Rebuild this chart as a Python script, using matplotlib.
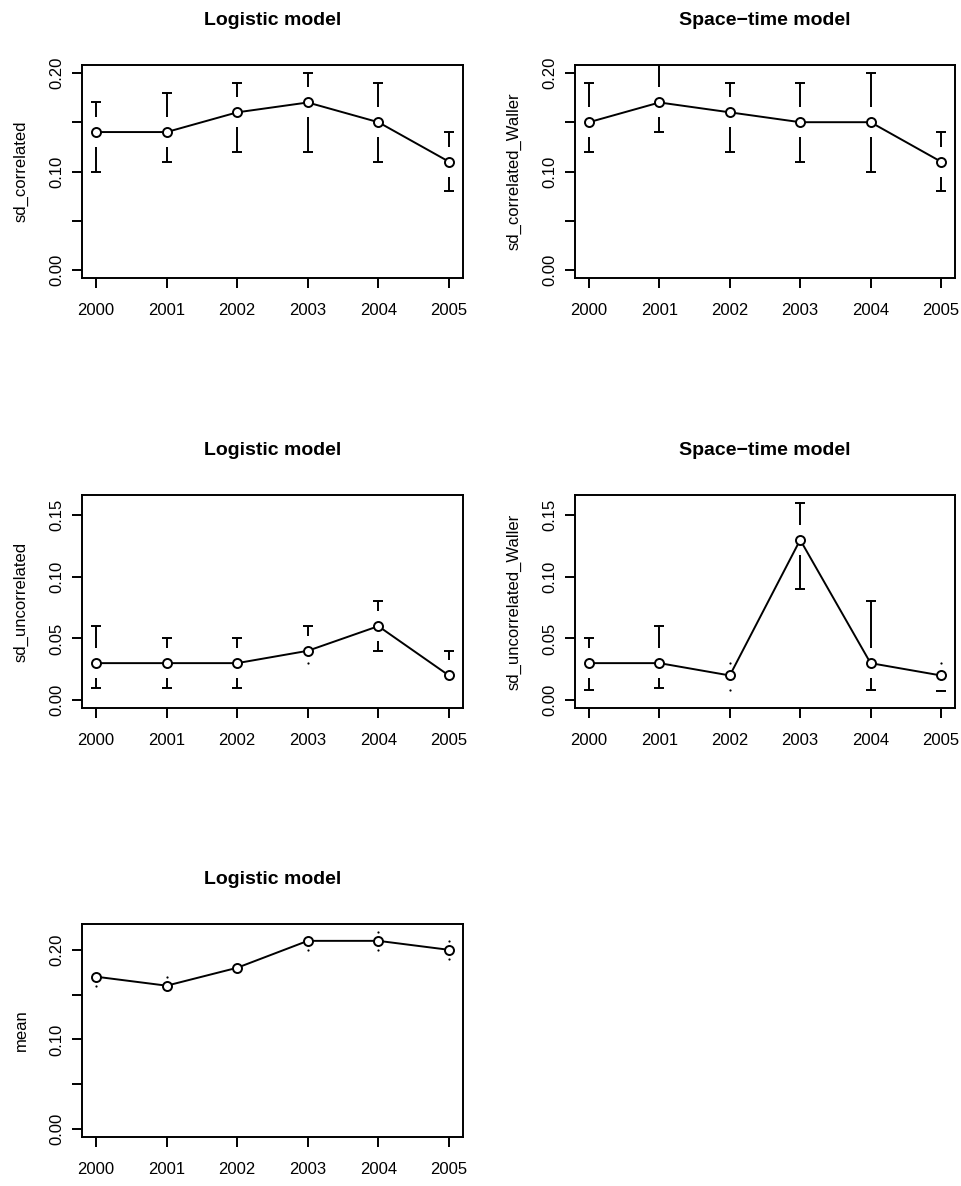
import matplotlib
matplotlib.use("Agg")
import matplotlib.pyplot as plt
import numpy as np

plt.rcParams['font.family'] = ['Liberation Sans', 'DejaVu Sans']

years = [2000, 2001, 2002, 2003, 2004, 2005]

# logistic model, sd_correlated
logit_corr = [0.14, 0.14, 0.16, 0.17, 0.15, 0.11]
logit_corr_lo = [0.10, 0.11, 0.12, 0.12, 0.11, 0.08]
logit_corr_hi = [0.17, 0.18, 0.19, 0.20, 0.19, 0.14]

# space-time model, sd_correlated_Waller
st_corr = [0.15, 0.17, 0.16, 0.15, 0.15, 0.11]
st_corr_lo = [0.12, 0.14, 0.12, 0.11, 0.10, 0.08]
st_corr_hi = [0.19, 0.21, 0.19, 0.19, 0.20, 0.14]

# logistic model, sd_uncorrelated
logit_unc = [0.03, 0.03, 0.03, 0.04, 0.06, 0.02]
logit_unc_lo = [0.01, 0.01, 0.01, 0.03, 0.04, 0.02]
logit_unc_hi = [0.06, 0.05, 0.05, 0.06, 0.08, 0.04]

# space-time model, sd_uncorrelated_Waller
st_unc = [0.03, 0.03, 0.02, 0.13, 0.03, 0.02]
st_unc_lo = [0.008, 0.01, 0.008, 0.09, 0.008, 0.007]
st_unc_hi = [0.05, 0.06, 0.03, 0.16, 0.08, 0.03]

# logistic model, mean
logit_mean = [0.17, 0.16, 0.18, 0.21, 0.21, 0.20]
logit_mean_lo = [0.16, 0.16, 0.18, 0.20, 0.20, 0.19]
logit_mean_hi = [0.17, 0.17, 0.18, 0.21, 0.22, 0.21]

W, H = 962, 1186
fig = plt.figure(figsize=(W / 100, H / 100), dpi=100)

LW = 1.4
GAP_PX = 15
AX_H = 213


def make_ax(left, top, width):
    return fig.add_axes([left / W, 1 - (top + AX_H) / H, width / W, AX_H / H])


def panel(ax, y, lo, hi, ymax, ticks, labels, title, ylabel, left_px, top_px):
    ext = 0.04 * ymax
    ax.set_ylim(-ext, ymax + ext)
    ax.set_xlim(years[0] - 0.04 * 5, years[-1] + 0.04 * 5)
    gap = GAP_PX / AX_H * (ymax + 2 * ext)
    for xi, yi, l, h in zip(years, y, lo, hi):
        if h - yi > gap:
            ax.plot([xi, xi], [yi + gap, h], color='black', lw=LW, solid_capstyle='butt')
            ax.plot([xi], [h], marker='_', ms=7.5, mew=LW, color='black')
        elif h - yi > 0.001:
            ax.plot([xi], [h], marker='o', ms=1.6, mew=0, color='black')
        if yi - l > gap:
            ax.plot([xi, xi], [l, yi - gap], color='black', lw=LW, solid_capstyle='butt')
            ax.plot([xi], [l], marker='_', ms=7.5, mew=LW, color='black')
        elif yi - l > 0.001:
            ax.plot([xi], [l], marker='o', ms=1.6, mew=0, color='black')
    ax.plot(years, y, color='black', lw=LW, marker='o', ms=6.5, mew=LW,
            mfc='white', mec='black')
    ax.set_xticks(years)
    ax.set_xticklabels([str(v) for v in years])
    ax.set_yticks(ticks)
    ax.set_yticklabels(labels, rotation=90, va='center')
    ax.tick_params(axis='both', direction='out', length=7, width=LW, labelsize=12)
    ax.tick_params(axis='x', pad=11)
    ax.tick_params(axis='y', pad=6)
    for s in ax.spines.values():
        s.set_linewidth(LW)
    ax.set_title(title, fontsize=14, fontweight='bold', pad=29)
    fig.text((left_px - 61) / W, 1 - (top_px + AX_H / 2) / H, ylabel,
             rotation=90, ha='center', va='center', fontsize=12)


t20 = [0, 0.05, 0.10, 0.15, 0.20]
l20 = ['0.00', '', '0.10', '', '0.20']
t15 = [0, 0.05, 0.10, 0.15]
l15 = ['0.00', '0.05', '0.10', '0.15']

ax1 = make_ax(82, 65, 381)
panel(ax1, logit_corr, logit_corr_lo, logit_corr_hi, 0.20, t20, l20,
      'Logistic model', 'sd_correlated', 82, 65)

ax2 = make_ax(575, 65, 380)
panel(ax2, st_corr, st_corr_lo, st_corr_hi, 0.20, t20, l20,
      'Space\u2212time model', 'sd_correlated_Waller', 575, 65)

ax3 = make_ax(82, 495, 381)
panel(ax3, logit_unc, logit_unc_lo, logit_unc_hi, 0.16, t15, l15,
      'Logistic model', 'sd_uncorrelated', 82, 495)

ax4 = make_ax(575, 495, 380)
panel(ax4, st_unc, st_unc_lo, st_unc_hi, 0.16, t15, l15,
      'Space\u2212time model', 'sd_uncorrelated_Waller', 575, 495)

ax5 = make_ax(82, 924, 381)
panel(ax5, logit_mean, logit_mean_lo, logit_mean_hi, 0.22, t20, l20,
      'Logistic model', 'mean', 82, 924)

fig.savefig('out.png', dpi=100)
